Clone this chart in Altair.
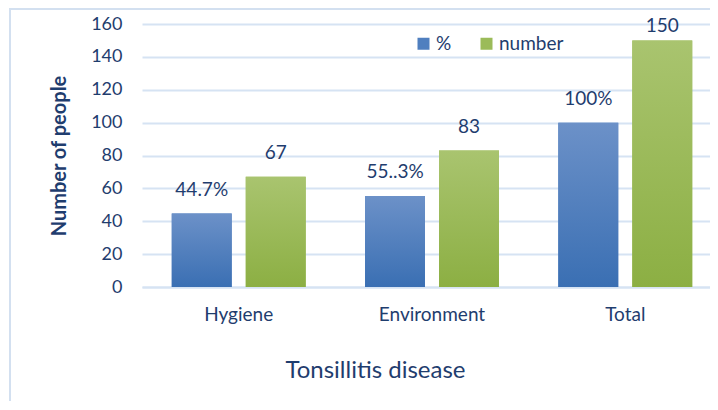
import altair as alt
import pandas as pd

categories = ["Hygiene", "Environment", "Total"]
series = ["%", "number"]
pct_values = [44.7, 55.3, 100]
num_values = [67, 83, 150]
pct_labels = ["44.7%", "55..3%", "100%"]
num_labels = ["67", "83", "150"]

rows = []
for c, v, l in zip(categories, pct_values, pct_labels):
    rows.append({"category": c, "series": "%", "value": v, "label": l})
for c, v, l in zip(categories, num_values, num_labels):
    rows.append({"category": c, "series": "number", "value": v, "label": l})
df = pd.DataFrame(rows)

FONT = "Lato"
TXT = "#1F3D6E"
GRID = "#D6E3F3"

blue_grad = {"gradient": "linear", "x1": 0, "y1": 0, "x2": 0, "y2": 1,
             "stops": [{"offset": 0, "color": "#6C91C8"},
                       {"offset": 1, "color": "#3A6FB3"}]}
green_grad = {"gradient": "linear", "x1": 0, "y1": 0, "x2": 0, "y2": 1,
              "stops": [{"offset": 0, "color": "#A9C46F"},
                        {"offset": 1, "color": "#8CAF43"}]}

x_enc = alt.X("category:N", sort=categories,
              scale=alt.Scale(paddingInner=0.307, paddingOuter=0.154, range=[0, 580]),
              axis=alt.Axis(title="Tonsillitis disease", labelAngle=0, ticks=False,
                            domain=True, domainColor=GRID, domainWidth=2,
                            labelPadding=18, labelFontSize=19, labelFont=FONT,
                            labelColor=TXT, titleFont=FONT, titleFontSize=24,
                            titleFontWeight="normal", titleColor=TXT,
                            titleX=233, titleY=83, titleBaseline="middle",
                            titleAnchor="start", titleAlign="center"))
xo_enc = alt.XOffset("series:N", sort=series,
                     scale=alt.Scale(paddingInner=0.19, paddingOuter=0))
y_scale = alt.Scale(domain=[0, 160], nice=False)
y_axis = alt.Axis(title="Number of people", values=list(range(0, 161, 20)),
                  ticks=False, domain=False, grid=True, gridColor=GRID,
                  gridWidth=2, labelPadding=20, labelFontSize=18,
                  labelOverlap=False,
                  labelFont=FONT, labelColor=TXT, titleFont=FONT,
                  titleFontSize=20, titleFontWeight="bold",
                  titleColor=TXT, titlePadding=21)
y_enc = alt.Y("value:Q", scale=y_scale, axis=y_axis)

base = alt.Chart(df)

bars = base.mark_bar().encode(
    x=x_enc, xOffset=xo_enc, y=y_enc,
    color=alt.Color("series:N", sort=series,
                    scale=alt.Scale(domain=series, range=["#4F7FBF", "#9BBB59"]),
                    legend=alt.Legend(title=None, orient="none", legendX=272,
                                      legendY=10, direction="horizontal",
                                      symbolType="square", symbolSize=144,
                                      symbolStrokeWidth=0, labelFontSize=19,
                                      labelFont=FONT, labelColor=TXT,
                                      columnPadding=25, labelOffset=3, padding=0)),
)

grad_bars = base.mark_bar().encode(
    x=x_enc, xOffset=xo_enc, y=y_enc,
    color=alt.condition(alt.datum.series == "%", alt.value(blue_grad), alt.value(green_grad)),
)

labels = base.transform_calculate(
    label_y="min(datum.value, 144)"
).mark_text(baseline="alphabetic", dy=-18, fontSize=19, font=FONT,
            color=TXT).encode(
    x=x_enc, xOffset=xo_enc,
    y=alt.Y("label_y:Q", scale=y_scale, axis=y_axis),
    text="label:N")

frame = alt.Chart(pd.DataFrame({"a": [0]})).mark_rect(
    fill=None, stroke="#D3E0F0", strokeWidth=2).encode(
    x=alt.value(-132), x2=alt.value(900), y=alt.value(-15), y2=alt.value(600))

chart = alt.layer(frame, bars, grad_bars, labels).properties(
    width=566, height=263,
    autosize=alt.AutoSizeParams(type="none"),
    padding={"left": 134, "top": 16, "right": 2, "bottom": 114},
).configure_view(stroke=None)

chart.save("out.html", embed_options={"renderer": "svg", "actions": False})
